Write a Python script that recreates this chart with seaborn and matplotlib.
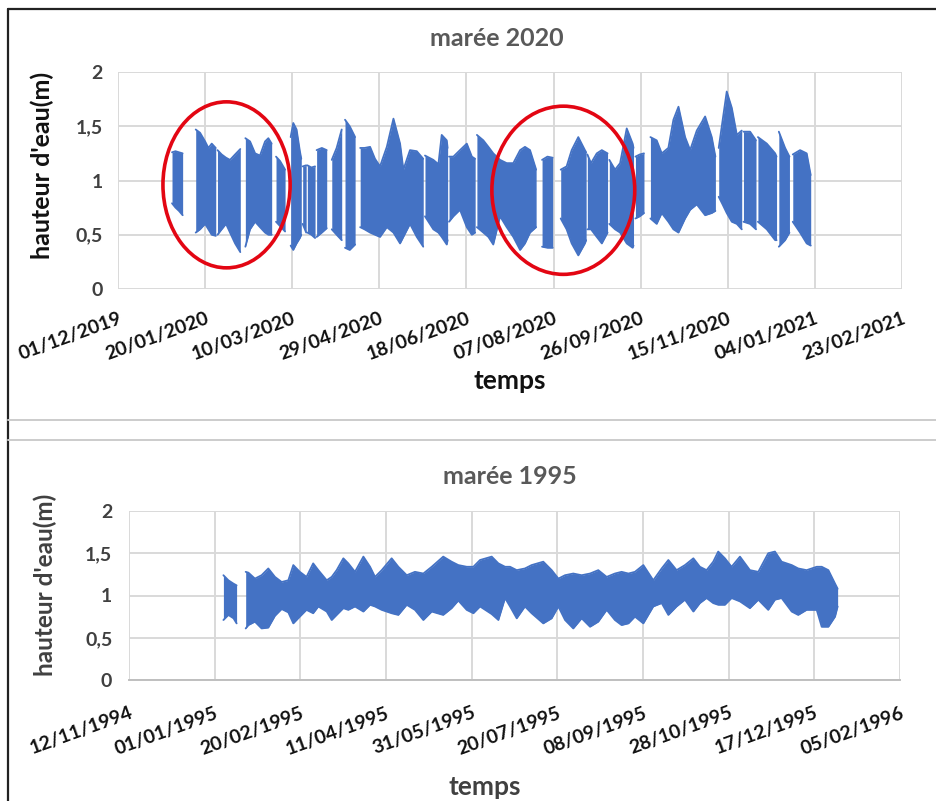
import numpy as np
import pandas as pd
import seaborn as sns
import matplotlib.pyplot as plt
from matplotlib.patches import Ellipse
from matplotlib.lines import Line2D
import matplotlib.dates as mdates

nan = np.nan

# maree 2020 : enveloppe haute / basse, jours depuis le 01/12/2019 (nan = lacune)
start_2020 = "2019-12-01"
days_2020 = [
    31, 33, 35, 37.1, nan,
    44.6, 47.1, 50.0, 51.9, 53.8, 56.1, nan,
    57.1, 59.5, 62.0, 64.3, 67.2, 70.2, nan,
    73.1, 75.8, 78.7, 81.5, 84.4, 86.3, 88.2, nan,
    90.7, 93.0, 95.9, nan,
    99.1, 100.6, 102.5, 104.4, 105.2, nan,
    106.0, 108.0, nan,
    108.7, 111.0, 113.1, nan,
    114.0, 117.0, 119.8, nan,
    122.7, 125.5, 128.4, nan,
    130.3, 133.0, 136.1, nan,
    139.0, 141.5, 144.7, 147.5, 150.4, 154.3, 158.1, 161.9, 163.8, 167.6, 171.5, 175.2, nan,
    176.2, 181.0, 183.9, 185.8, 188.7, 189.2, nan,
    190.0, 192.5, 196.3, 200.2, 203.1, 205.0, nan,
    206.0, 209.7, 212.6, 215.4, 219.3, 223.1, 226.9, 230.8, 233.6, 236.5, 240.0, nan,
    243.4, 246.5, 249.5, nan,
    254.1, 257.5, 260.4, 264.2, 268.0, 268.7, nan,
    269.4, 271.5, 274.8, 277.7, 281.0, nan,
    282.0, 285.3, 288.2, 292.0, 295.4, 295.9, nan,
    297.0, 299.5, 301.9, nan,
    305.6, 309.2, 312.1, 315.9, 318.8, 321.7, 325.5, 328.4, 332.2, 337.0, 340.8, 342.9, nan,
    344.8, 347.0, 349.4, 352.3, 355.2, 358.0, nan,
    359.0, 362.8, 366.2, nan,
    367.3, 372.4, 377.2, 378.0, nan,
    379.3, 382.9, 385.4, nan,
    387.3, 391.5, 395.3, 397.6,
]
hi_2020 = [
    1.26, 1.27, 1.26, 1.25, nan,
    1.47, 1.44, 1.36, 1.30, 1.34, 1.30, nan,
    1.28, 1.24, 1.21, 1.19, 1.24, 1.29, nan,
    1.39, 1.36, 1.25, 1.23, 1.36, 1.39, 1.34, nan,
    1.22, 1.18, 1.10, nan,
    1.40, 1.53, 1.47, 1.27, 1.20, nan,
    1.13, 1.14, nan,
    1.14, 1.12, 1.13, nan,
    1.28, 1.30, 1.28, nan,
    1.19, 1.30, 1.47, nan,
    1.56, 1.50, 1.40, nan,
    1.30, 1.30, 1.31, 1.20, 1.13, 1.31, 1.57, 1.34, 1.10, 1.28, 1.27, 1.20, nan,
    1.23, 1.19, 1.15, 1.42, 1.37, 1.30, nan,
    1.22, 1.22, 1.28, 1.34, 1.22, 1.20, nan,
    1.42, 1.37, 1.31, 1.25, 1.19, 1.16, 1.16, 1.28, 1.31, 1.28, 1.10, nan,
    1.19, 1.22, 1.21, nan,
    1.10, 1.13, 1.28, 1.40, 1.28, 1.26, nan,
    1.24, 1.16, 1.25, 1.28, 1.25, nan,
    1.19, 1.10, 1.16, 1.48, 1.34, 1.30, nan,
    1.22, 1.24, 1.25, nan,
    1.40, 1.37, 1.25, 1.30, 1.56, 1.68, 1.40, 1.28, 1.46, 1.59, 1.40, 1.22, nan,
    1.30, 1.55, 1.82, 1.67, 1.42, 1.46, nan,
    1.45, 1.45, 1.37, nan,
    1.40, 1.34, 1.25, 1.22, nan,
    1.45, 1.30, 1.22, nan,
    1.24, 1.28, 1.25, 1.05,
]
lo_2020 = [
    0.79, 0.75, 0.72, 0.68, nan,
    0.52, 0.55, 0.60, 0.55, 0.50, 0.49, nan,
    0.50, 0.55, 0.60, 0.52, 0.42, 0.34, nan,
    0.39, 0.55, 0.62, 0.57, 0.52, 0.50, 0.50, nan,
    0.62, 0.58, 0.53, nan,
    0.40, 0.36, 0.42, 0.47, 0.50, nan,
    0.60, 0.52, nan,
    0.52, 0.50, 0.47, nan,
    0.48, 0.52, 0.56, nan,
    0.55, 0.50, 0.45, nan,
    0.38, 0.36, 0.41, nan,
    0.57, 0.55, 0.52, 0.50, 0.48, 0.57, 0.52, 0.42, 0.48, 0.60, 0.48, 0.39, nan,
    0.67, 0.55, 0.52, 0.48, 0.41, 0.45, nan,
    0.62, 0.67, 0.73, 0.57, 0.50, 0.52, nan,
    0.57, 0.52, 0.48, 0.41, 0.67, 0.57, 0.48, 0.36, 0.42, 0.52, 0.57, nan,
    0.39, 0.38, 0.38, nan,
    0.65, 0.55, 0.42, 0.31, 0.42, 0.45, nan,
    0.55, 0.55, 0.48, 0.42, 0.52, nan,
    0.60, 0.55, 0.52, 0.42, 0.38, 0.40, nan,
    0.65, 0.67, 0.70, nan,
    0.65, 0.60, 0.70, 0.62, 0.55, 0.52, 0.65, 0.73, 0.78, 0.68, 0.70, 0.72, nan,
    0.85, 0.78, 0.70, 0.62, 0.60, 0.55, nan,
    0.62, 0.60, 0.55, nan,
    0.62, 0.55, 0.45, 0.45, nan,
    0.39, 0.45, 0.52, nan,
    0.62, 0.52, 0.42, 0.40,
]

# maree 1995 : jours depuis le 12/11/1994
start_1995 = "1994-11-12"
days_1995 = [
    55.1, 58.0, 61.0, 62.8, nan,
    68.1, 69.7, 73.5, 77.4, 81.3, 85.2, 89.1, 93.0, 95.9, 99.7, 103.6, 107.5, 110.5, 115.4,
    118.3, 121.2, 125.1, 128.0, 131.9, 136.8, 140.7, 143.6, 147.5, 153.3, 157.2, 162.1, 166.9, 171.8,
    176.7, 183.4, 188.3, 192.2, 197.1, 201.0, 204.9, 211.7, 215.6, 219.5, 222.4, 226.3, 231.1,
    235.0, 241.8, 246.7, 250.6, 254.5, 259.3, 264.2, 269.1, 273.9, 278.8, 283.6, 287.5, 291.5,
    295.3, 300.2, 306.0, 310.9, 314.8, 319.6, 324.5, 329.4, 333.2, 337.1, 341.0, 343.9, 347.8, 351.7,
    356.6, 362.4, 367.3, 373.1, 377.0, 380.9, 386.8, 390.6, 395.5, 401.4, 404.3, 408.2, 412.1, 413.6,
]
hi_1995 = [
    1.24, 1.18, 1.14, 1.12, nan,
    1.28, 1.27, 1.20, 1.24, 1.32, 1.22, 1.16, 1.18, 1.36, 1.28, 1.22, 1.38, 1.30, 1.18,
    1.22, 1.30, 1.44, 1.38, 1.28, 1.46, 1.34, 1.22, 1.30, 1.44, 1.34, 1.24, 1.28, 1.26,
    1.34, 1.46, 1.40, 1.36, 1.34, 1.34, 1.42, 1.46, 1.38, 1.34, 1.34, 1.30, 1.32,
    1.36, 1.40, 1.30, 1.20, 1.24, 1.26, 1.24, 1.26, 1.30, 1.22, 1.26, 1.28, 1.26,
    1.28, 1.36, 1.18, 1.32, 1.42, 1.30, 1.36, 1.44, 1.34, 1.30, 1.40, 1.52, 1.44, 1.34,
    1.46, 1.30, 1.28, 1.50, 1.52, 1.40, 1.36, 1.32, 1.30, 1.34, 1.34, 1.30, 1.14, 1.08,
]
lo_1995 = [
    0.71, 0.77, 0.73, 0.67, nan,
    0.61, 0.65, 0.69, 0.61, 0.62, 0.76, 0.84, 0.80, 0.67, 0.75, 0.83, 0.79, 0.87, 0.81,
    0.71, 0.77, 0.85, 0.83, 0.87, 0.81, 0.89, 0.87, 0.83, 0.79, 0.77, 0.89, 0.83, 0.71,
    0.81, 0.77, 0.85, 0.94, 0.83, 0.79, 0.87, 0.78, 0.71, 0.97, 0.87, 0.73, 0.87,
    0.79, 0.67, 0.73, 0.87, 0.71, 0.61, 0.73, 0.63, 0.69, 0.83, 0.71, 0.65, 0.67,
    0.75, 0.67, 0.87, 0.91, 0.77, 0.87, 0.95, 0.81, 0.91, 0.97, 0.91, 0.89, 0.89, 0.97,
    0.93, 0.85, 0.95, 0.83, 0.95, 0.97, 0.81, 0.77, 0.83, 0.83, 0.63, 0.63, 0.75, 0.87,
]

# zones entourees en rouge (centre en jours depuis le 01/12/2019, largeur en jours, hauteur en m)
circle_days = [62.3, 255.6]
circle_level = [0.96, 0.91]
circle_width = [73, 82]
circle_height = [1.53, 1.55]

y_ticks = [0, 0.5, 1, 1.5, 2]
y_ticklabels = ["0", "0,5", "1", "1,5", "2"]

BLUE = "#4472C4"
GRID = "#d9d9d9"

sns.set_style("white")
plt.rcParams["font.family"] = ["Lato", "DejaVu Sans"]
plt.rcParams["font.weight"] = "bold"

fig = plt.figure(figsize=(9.36, 8.01), dpi=100)


def draw_tide(ax, start, days, hi, lo):
    df = pd.DataFrame({"days": days, "hi": hi, "lo": lo})
    df["seg"] = df["days"].isna().cumsum()
    df = df.dropna().copy()
    df["date"] = pd.Timestamp(start) + pd.to_timedelta(df["days"], unit="D")
    for _, g in df.groupby("seg"):
        ax.fill_between(g["date"], g["lo"], g["hi"], color=BLUE, lw=0, zorder=2)
    long = df.melt(id_vars=["date", "seg"], value_vars=["hi", "lo"])
    long["unit"] = long["variable"] + long["seg"].astype(str)
    sns.lineplot(data=long, x="date", y="value", units="unit", estimator=None,
                 color=BLUE, lw=1.3, legend=False, ax=ax, zorder=3)
    ax.set_xlabel("")
    ax.set_ylabel("")


def style_axes(ax, start, tick_len, xpad, ypad, ycolor):
    ticks = pd.date_range(start, periods=10, freq="50D")
    ax.set_xlim(ticks[0], ticks[-1])
    ax.set_ylim(0, 2)
    ax.set_xticks(ticks)
    ax.set_xticklabels([t.strftime("%d/%m/%Y") for t in ticks], rotation=20,
                       ha="right", va="top", rotation_mode="anchor",
                       fontsize=14, fontweight="bold", color="#111111")
    ax.set_yticks(y_ticks)
    ax.set_yticklabels(y_ticklabels, fontsize=14, fontweight="bold", color=ycolor)
    ax.grid(True, color=GRID, lw=1.4)
    ax.set_axisbelow(True)
    for s in ax.spines.values():
        s.set_visible(False)
    ax.tick_params(axis="x", length=tick_len, width=1.2, color="#bfbfbf", pad=xpad)
    ax.tick_params(axis="y", length=0, pad=ypad)


# --- maree 2020 ---
ax1 = fig.add_axes([118 / 936, 1 - 289 / 801, 784 / 936, 217 / 801])
draw_tide(ax1, start_2020, days_2020, hi_2020, lo_2020)
style_axes(ax1, start_2020, 0, 15, 11, "#404040")
for d, v, w, h in zip(circle_days, circle_level, circle_width, circle_height):
    c = pd.Timestamp(start_2020) + pd.Timedelta(days=d)
    ax1.add_patch(Ellipse((mdates.date2num(c), v), w, h, fill=False,
                          edgecolor="#e30613", lw=2.6, zorder=5))

fig.text(497 / 936, 1 - 38 / 801, "marée 2020", ha="center", va="center",
         fontsize=18, fontweight="bold", color="#595959")
fig.text(510 / 936, 1 - 381 / 801, "temps", ha="center", va="center",
         fontsize=19, fontweight="bold", color="#111111")
fig.text(42 / 936, 1 - 165 / 801, "hauteur d'eau(m)", ha="center", va="center",
         rotation=90, fontsize=18, fontweight="bold", color="#111111")

# --- maree 1995 ---
ax2 = fig.add_axes([129 / 936, 1 - 680 / 801, 771 / 936, 169 / 801])
draw_tide(ax2, start_1995, days_1995, hi_1995, lo_1995)
style_axes(ax2, start_1995, 4.5, 13, 12, "#404040")
ax2.spines["bottom"].set_visible(True)
ax2.spines["bottom"].set_color("#bfbfbf")
ax2.spines["bottom"].set_linewidth(1.4)

fig.text(510 / 936, 1 - 476 / 801, "marée 1995", ha="center", va="center",
         fontsize=18, fontweight="bold", color="#595959")
fig.text(485 / 936, 1 - 787 / 801, "temps", ha="center", va="center",
         fontsize=19, fontweight="bold", color="#404040")
fig.text(45 / 936, 1 - 585 / 801, "hauteur d'eau(m)", ha="center", va="center",
         rotation=90, fontsize=17.5, fontweight="bold", color="#404040")

# cadre de la figure
x0 = 8 / 936
ytop = 1 - 9 / 801
fig.add_artist(Line2D([x0, x0], [0, ytop], transform=fig.transFigure, color="#222222", lw=1.6))
fig.add_artist(Line2D([x0, 1], [ytop, ytop], transform=fig.transFigure, color="#222222", lw=1.6))
for yy in (420, 440):
    fig.add_artist(Line2D([x0, 1], [1 - yy / 801] * 2, transform=fig.transFigure,
                          color="#cccccc", lw=1.4))

fig.savefig("out.png", dpi=100)
